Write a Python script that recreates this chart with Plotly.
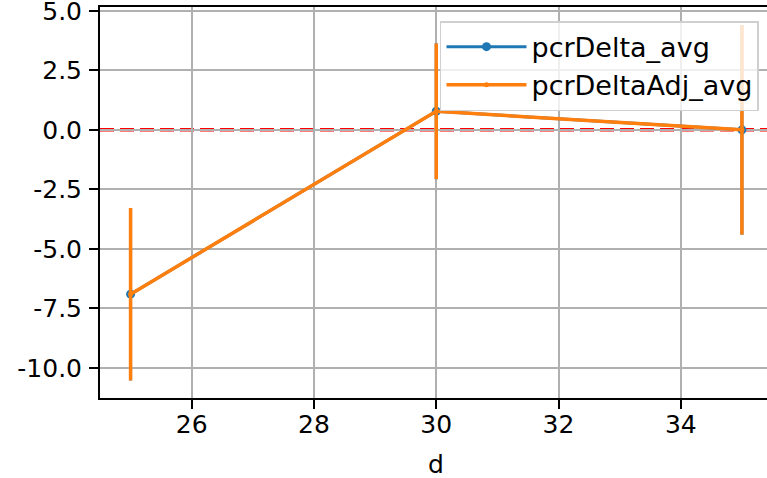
import plotly.graph_objects as go

d = [25, 30, 35]
pcrDelta_avg = [-6.9, 0.78, 0.0]
pcrDelta_err = [3.62, 2.85, 4.4]
pcrDeltaAdj_avg = [-6.9, 0.78, 0.0]
pcrDeltaAdj_err = [3.62, 2.85, 4.4]

ytick_vals = [-10.0, -7.5, -5.0, -2.5, 0.0, 2.5, 5.0]
ytick_text = ["-10.0", "-7.5", "-5.0", "-2.5", "0.0", "2.5", "5.0"]
xtick_vals = [26, 28, 30, 32, 34]
xtick_text = ["26", "28", "30", "32", "34"]

BLUE = "#1f77b4"
ORANGE = "#ff7f0e"
FONT = "DejaVu Sans"
FS = 25

fig = go.Figure()
fig.add_trace(go.Scatter(
    x=d, y=pcrDelta_avg, name="pcrDelta_avg", mode="lines+markers", legendgroup="a",
    line=dict(color=BLUE, width=3), marker=dict(color=BLUE, size=9),
    error_y=dict(type="data", array=pcrDelta_err, color=BLUE, thickness=3, width=0),
))
fig.add_trace(go.Scatter(
    x=d, y=pcrDeltaAdj_avg, name="pcrDeltaAdj_avg", mode="lines+markers", legendgroup="b",
    line=dict(color=ORANGE, width=3.5), marker=dict(color=ORANGE, size=5),
    error_y=dict(type="data", array=pcrDeltaAdj_err, color=ORANGE, thickness=3.5, width=0),
))

fig.add_shape(type="line", xref="paper", x0=0, x1=1, yref="y", y0=0, y1=0,
              line=dict(color="red", width=3.5, dash="14px,6px"), layer="between")

fig.add_annotation(text="d", xref="paper", yref="paper", x=0.5037, y=0,
                   xanchor="center", yanchor="middle", yshift=-66, showarrow=False,
                   font=dict(family=FONT, size=FS, color="black"))

axis_common = dict(
    showgrid=True, gridcolor="#b0b0b0", gridwidth=1.5, zeroline=False,
    showline=True, linecolor="black", linewidth=2,
    ticks="outside", ticklen=9, tickwidth=2, tickcolor="black",
    tickfont=dict(family=FONT, size=FS, color="black"),
    automargin=False, ticklabeloverflow="allow",
)

fig.update_layout(
    width=767, height=478,
    margin=dict(l=100, r=0, t=7, b=80, autoexpand=False),
    paper_bgcolor="white", plot_bgcolor="white",
    font=dict(family=FONT, size=FS, color="black"),
    xaxis=dict(range=[24.5, 35.41], tickvals=xtick_vals, ticktext=xtick_text,
               mirror=True, ticklabelstandoff=-6, **axis_common),
    yaxis=dict(range=[-11.26, 5.16], tickvals=ytick_vals, ticktext=ytick_text,
               ticklabelstandoff=2, **axis_common),
    legend=dict(x=0.988, y=0.964, xanchor="right", yanchor="top",
                bgcolor="rgba(255,255,255,0.8)", bordercolor="#d0d0d0", borderwidth=1.5,
                font=dict(family=FONT, size=27, color="black"), itemwidth=80,
                tracegroupgap=0),
    showlegend=True,
)

fig.write_html("out.html", config={"displayModeBar": False},
               post_script="document.body.style.margin='0px';document.body.style.padding='0px';")
